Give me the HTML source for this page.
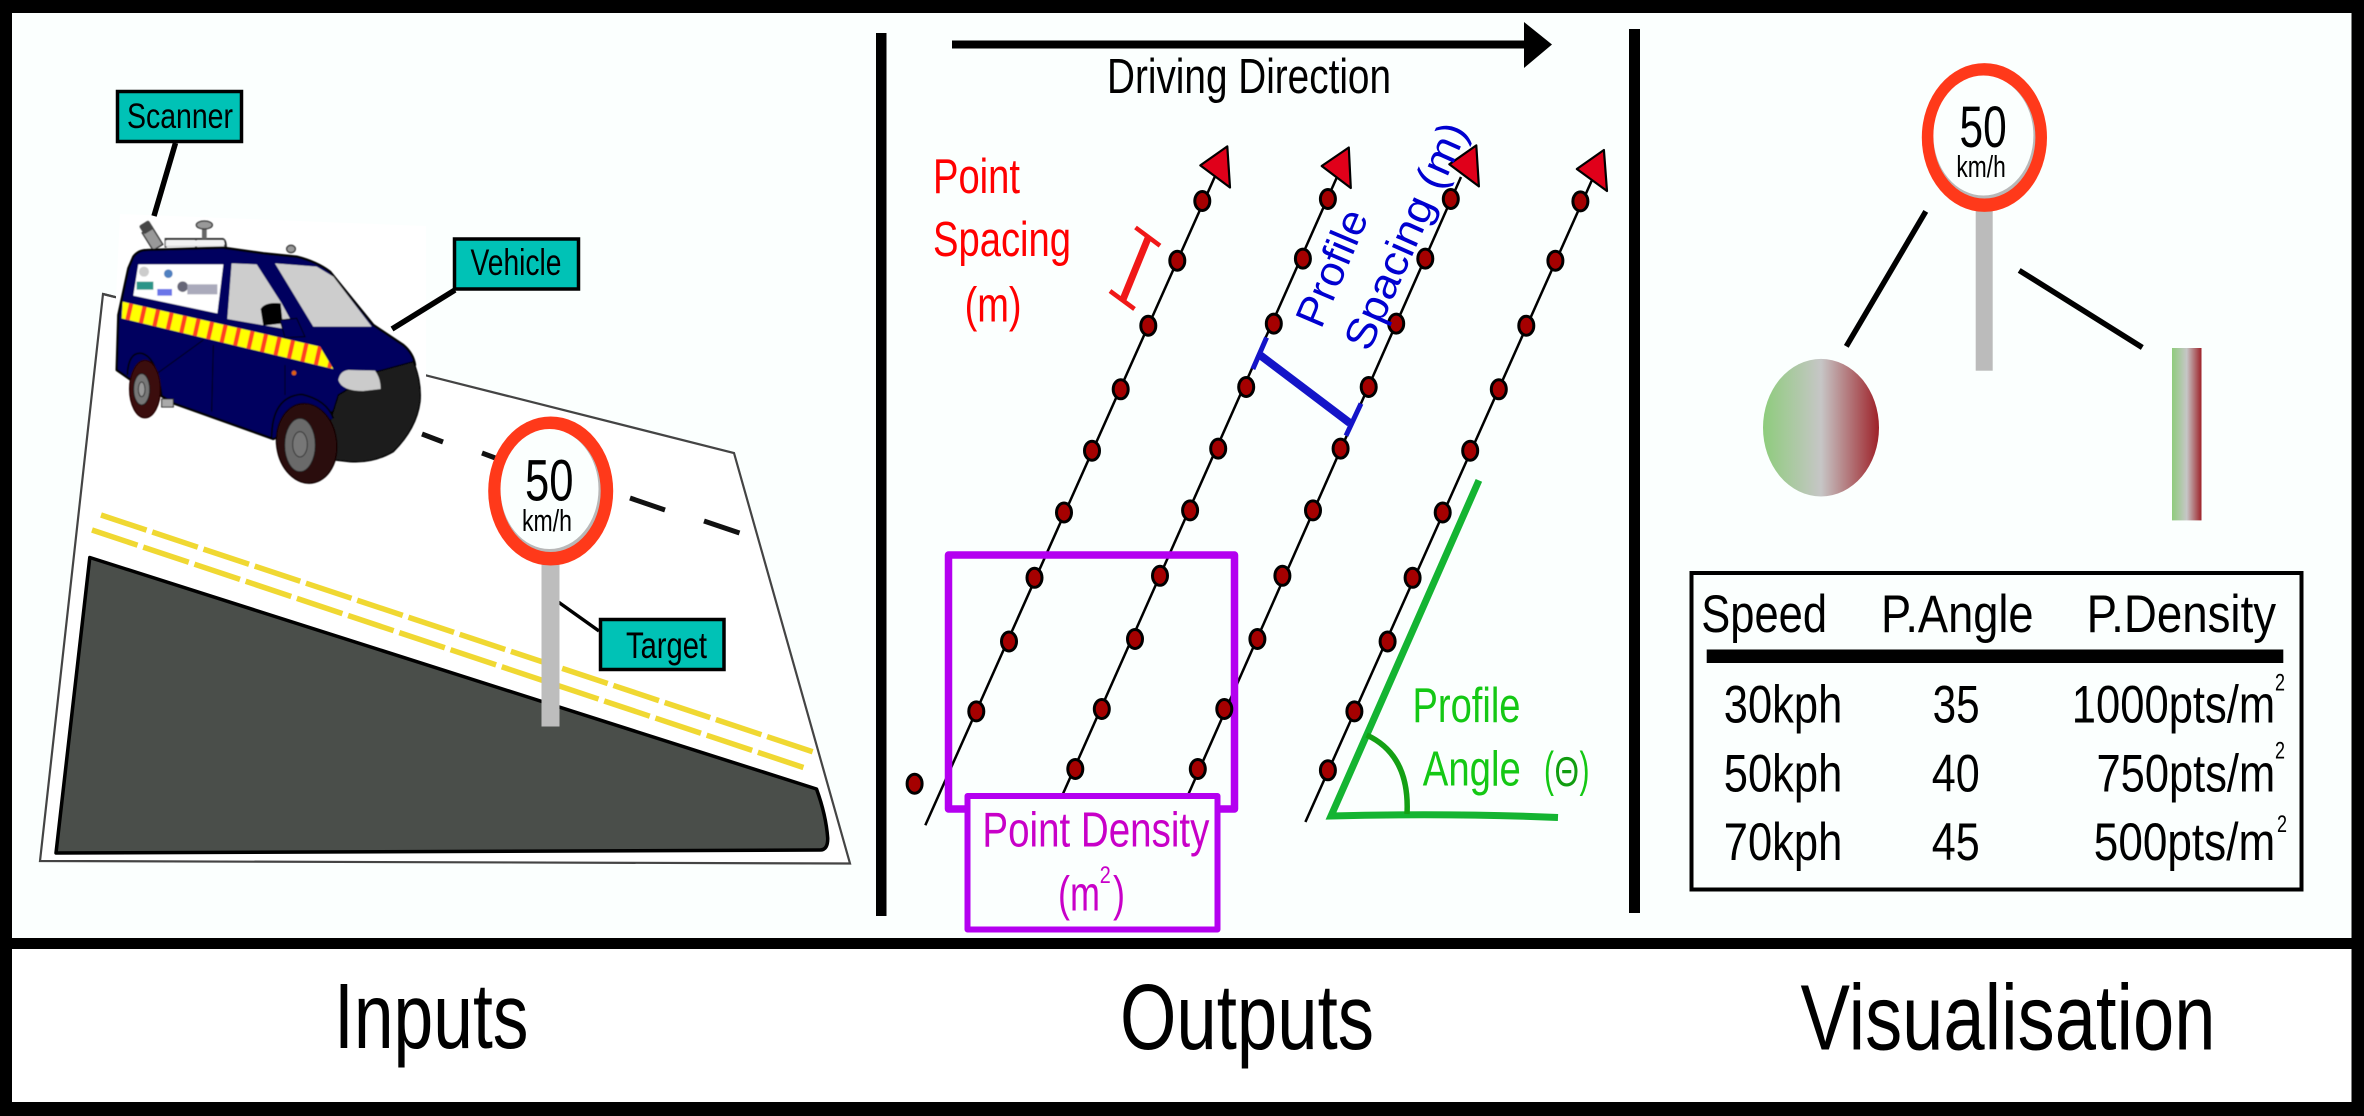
<!DOCTYPE html>
<html><head><meta charset="utf-8"><style>
html,body{margin:0;padding:0;background:#000;width:2364px;height:1116px;overflow:hidden}
svg{display:block}
text{font-family:"Liberation Sans",sans-serif}
</style></head><body>
<svg width="2364" height="1116" viewBox="0 0 2364 1116" xmlns="http://www.w3.org/2000/svg">
<defs>
<linearGradient id="g1" x1="0" x2="1" y1="0" y2="0"><stop offset="0" stop-color="#8ecc7c"/><stop offset=".5" stop-color="#c6c6c6"/><stop offset="1" stop-color="#9e2229"/></linearGradient>
<clipPath id="st"><polygon points="68,290 660,425 700,492 65,340"/></clipPath>
<filter id="soft" x="-5%" y="-5%" width="110%" height="110%"><feGaussianBlur stdDeviation="1.8"/></filter>
</defs>
<rect width="2364" height="1116" fill="#000"/>
<rect x="12" y="13" width="2339.5" height="925" fill="#fbfffe"/>
<rect x="12" y="949" width="2339.5" height="153" fill="#fff"/>

<!-- INPUTS -->
<polygon points="103,294 734,453 850,863.5 40,861" fill="#fff" stroke="#444" stroke-width="2.2"/>
<polygon points="120,214 426,226 426,375 424,480 120,480 116,297" fill="#fff"/>
<polyline points="103,294 115,297" fill="none" stroke="#444" stroke-width="2.2"/>
<g stroke="#111" stroke-width="5" fill="none">
<line x1="422" y1="434" x2="443" y2="442"/><line x1="482" y1="453" x2="498" y2="459"/>
<line x1="630" y1="498" x2="665" y2="510"/><line x1="704" y1="521" x2="739.5" y2="533"/>
</g>
<g stroke="#f0d832" stroke-width="5.5" fill="none" stroke-dasharray="48 6">
<line x1="101" y1="515" x2="815" y2="752.5"/>
<line x1="92" y1="530" x2="808" y2="769"/>
</g>
<path d="M89.8,557.5 L816.5,789 Q826,815 827.7,838 Q828,850 820,850 L56,853 Z" fill="#4a4e4a" stroke="#000" stroke-width="3.5" stroke-linejoin="round"/>

<!-- vehicle -->
<g transform="translate(100,205) scale(.33333)" filter="url(#soft)">
<path d="M197,128 V102 H368 Q378,104 378,130 M288,100 V128 M197,122 H378" fill="none" stroke="#333" stroke-width="6"/>
<rect x="197" y="106" width="175" height="18" fill="#f2f2f2"/>
<rect x="140" y="70" width="34" height="62" fill="#999" stroke="#333" stroke-width="4" transform="rotate(-32 157 100)"/>
<rect x="122" y="52" width="34" height="30" rx="6" fill="#444" transform="rotate(-32 139 67)"/>
<rect x="306" y="68" width="14" height="34" fill="#666"/>
<ellipse cx="313" cy="60" rx="24" ry="12" fill="#999" stroke="#333" stroke-width="4"/>
<ellipse cx="573" cy="132" rx="13" ry="11" fill="#999" stroke="#333" stroke-width="4"/>
<path d="M100,155 Q115,135 140,135 L370,128 L490,145 L590,155 Q650,170 690,200 L820,360 L910,420 Q940,445 945,480 L715,590 L700,620 L520,702 L220,595 L180,570 L100,530 L50,495 L55,330 L70,260 L85,190 Z" fill="#00005e" stroke="#000" stroke-width="7" stroke-linejoin="round"/>
<path d="M940,470 Q965,530 960,590 Q950,670 880,740 Q820,775 750,770 L705,765 L690,650 L715,570 L830,500 Z" fill="#1e1e1e" stroke="#000" stroke-width="4"/>
<path d="M715,525 Q720,498 745,495 L825,497 Q842,520 842,552 L790,558 Q725,558 715,525 Z" fill="#cbcbcb"/>
<polygon points="525,175 650,185 700,215 815,365 640,365" fill="#cdcdcd"/>
<path d="M395,175 L470,178 L545,295 L590,378 L382,342 Z" fill="#cdcdcd"/>
<polygon points="115,178 370,178 352,325 100,272" fill="#fff"/>
<rect x="110" y="230" width="50" height="24" fill="#2a9488"/>
<rect x="172" y="252" width="44" height="20" fill="#6a74e8"/>
<circle cx="205" cy="206" r="13" fill="#5080c0"/>
<circle cx="132" cy="200" r="15" fill="#ccc"/>
<ellipse cx="248" cy="245" rx="16" ry="16" fill="#667"/>
<rect x="262" y="238" width="90" height="30" fill="#aab"/>
<path d="M482,312 Q495,290 542,295 L548,355 L490,362 Z" fill="#000"/>
<path d="M540,345 L590,340 L615,395 L555,398 Z" fill="#00005e" stroke="#000" stroke-width="3"/>
<polygon points="68,290 660,425 700,492 65,340" fill="#ffff00"/>
<line x1="65" y1="315" x2="700" y2="460" stroke="#ff4020" stroke-width="62" stroke-dasharray="13 28.5" stroke-dashoffset="-17" clip-path="url(#st)"/>
<path d="M165,510 L310,405 M340,420 L335,620 M555,480 V570" stroke="#000" stroke-width="3" fill="none"/>
<circle cx="582" cy="504" r="7" fill="#e06010"/>
<rect x="185" y="582" width="35" height="24" fill="#aaa" stroke="#222" stroke-width="3"/>
<path d="M82,510 Q85,440 125,445 Q170,455 185,570" fill="#00005e" stroke="#000" stroke-width="5"/>
<path d="M515,700 Q515,575 605,568 Q680,585 700,640" fill="#00005e" stroke="#000" stroke-width="5"/>
<ellipse cx="135" cy="552" rx="46" ry="86" fill="#3a0a0a" stroke="#200" stroke-width="4"/>
<ellipse cx="125" cy="553" rx="24" ry="47" fill="#777" stroke="#222" stroke-width="3"/>
<ellipse cx="125" cy="553" rx="10" ry="22" fill="#999" stroke="#333" stroke-width="3"/>
<ellipse cx="620" cy="715" rx="90" ry="120" fill="#2c0a0a" stroke="#100" stroke-width="4" transform="rotate(-8 620 715)"/>
<ellipse cx="600" cy="720" rx="46" ry="80" fill="#6a6a6a" stroke="#222" stroke-width="3"/>
<ellipse cx="600" cy="718" rx="22" ry="38" fill="#777" stroke="#333" stroke-width="3"/>
</g>

<line x1="175.500" y1="143" x2="154" y2="216" stroke="#000" stroke-width="5.500"/>
<line x1="455" y1="290" x2="392" y2="329" stroke="#000" stroke-width="5.500"/>
<line x1="555.500" y1="600" x2="599" y2="631" stroke="#000" stroke-width="3.500"/>

<g fill="#00c2b6" stroke="#000" stroke-width="3.500">
<rect x="117.500" y="91.500" width="124" height="50"/>
<rect x="454.500" y="239" width="124" height="50"/>
<rect x="600.500" y="619.500" width="123.500" height="50"/>
</g>
<text x="127" y="128" font-size="35" textLength="106" lengthAdjust="spacingAndGlyphs">Scanner</text>
<text x="470.500" y="275" font-size="37" textLength="91" lengthAdjust="spacingAndGlyphs">Vehicle</text>
<text x="626" y="658" font-size="37" textLength="81" lengthAdjust="spacingAndGlyphs">Target</text>

<!-- sign 1 -->
<rect x="541.500" y="560" width="18" height="166.500" fill="#bdbdbd"/>
<ellipse cx="550.700" cy="491" rx="62.500" ry="74.500" fill="#ff391a"/>
<ellipse cx="550.700" cy="491" rx="50" ry="61" fill="#b8b8b8"/>
<ellipse cx="549.500" cy="489" rx="49" ry="60" fill="#fbfffe"/>
<text x="525" y="500.500" font-size="58" textLength="48.500" lengthAdjust="spacingAndGlyphs">50</text>
<text x="522" y="531" font-size="31" textLength="50" lengthAdjust="spacingAndGlyphs">km/h</text>

<text x="334" y="1048" font-size="93" textLength="194.500" lengthAdjust="spacingAndGlyphs">Inputs</text>

<!-- dividers -->
<rect x="876" y="33" width="10.500" height="883" fill="#000"/>
<rect x="1629" y="29" width="11" height="884" fill="#000"/>

<!-- arrow -->
<rect x="952" y="40.500" width="574" height="8" fill="#000"/>
<polygon points="1524,22 1552,44.500 1524,68" fill="#000"/>
<text x="1107" y="93" font-size="49" textLength="284" lengthAdjust="spacingAndGlyphs">Driving Direction</text>

<!-- profile lines -->
<g stroke="#000" stroke-width="2.500" fill="none">
<line x1="1215.600" y1="175" x2="925.300" y2="825.300"/>
<line x1="1337" y1="177" x2="1062" y2="796"/>
<line x1="1461" y1="177" x2="1187.600" y2="796"/>
<line x1="1592" y1="180" x2="1305.400" y2="822"/>
</g>

<!-- purple main box -->
<rect x="948.500" y="555" width="286" height="254" fill="none" stroke="#b400f0" stroke-width="7.500" stroke-linejoin="round"/>

<!-- triangles -->
<g fill="#e0001a" stroke="#000" stroke-width="2.200" stroke-linejoin="round">
<polygon points="1227.300,146.400 1200.300,165.400 1230,187.500"/>
<polygon points="1348.800,147.500 1321.700,166 1350.800,188"/>
<polygon points="1476.300,145.400 1449.300,164.300 1478.900,186.400"/>
<polygon points="1603.900,150 1576.800,169 1607,191"/>
</g>

<!-- dots -->
<g fill="#a50000" stroke="#000" stroke-width="3">
<ellipse cx="1202.300" cy="201" rx="7.500" ry="9.500"/><ellipse cx="1177.300" cy="260.700" rx="7.500" ry="9.500"/><ellipse cx="1148.300" cy="325.700" rx="7.500" ry="9.500"/><ellipse cx="1120.700" cy="389.300" rx="7.500" ry="9.500"/><ellipse cx="1092" cy="450.700" rx="7.500" ry="9.500"/><ellipse cx="1064" cy="512.500" rx="7.500" ry="9.500"/><ellipse cx="1034.500" cy="577.800" rx="7.500" ry="9.500"/><ellipse cx="1009" cy="641.500" rx="7.500" ry="9.500"/><ellipse cx="976.300" cy="711.400" rx="7.500" ry="9.500"/><ellipse cx="914.600" cy="783.700" rx="7.500" ry="9.500"/>
<ellipse cx="1327.900" cy="199" rx="7.500" ry="9.500"/><ellipse cx="1302.900" cy="258.600" rx="7.500" ry="9.500"/><ellipse cx="1273.800" cy="323.600" rx="7.500" ry="9.500"/><ellipse cx="1246.200" cy="387" rx="7.500" ry="9.500"/><ellipse cx="1218.200" cy="448.600" rx="7.500" ry="9.500"/><ellipse cx="1190.100" cy="510.400" rx="7.500" ry="9.500"/><ellipse cx="1160" cy="575.800" rx="7.500" ry="9.500"/><ellipse cx="1135" cy="639" rx="7.500" ry="9.500"/><ellipse cx="1101.800" cy="709" rx="7.500" ry="9.500"/><ellipse cx="1075.300" cy="769" rx="7.500" ry="9.500"/>
<ellipse cx="1450.800" cy="199" rx="7.500" ry="9.500"/><ellipse cx="1425.300" cy="258.600" rx="7.500" ry="9.500"/><ellipse cx="1396.200" cy="323.600" rx="7.500" ry="9.500"/><ellipse cx="1368.700" cy="387" rx="7.500" ry="9.500"/><ellipse cx="1340.600" cy="448.600" rx="7.500" ry="9.500"/><ellipse cx="1313" cy="510.400" rx="7.500" ry="9.500"/><ellipse cx="1282.400" cy="575.800" rx="7.500" ry="9.500"/><ellipse cx="1257.400" cy="639" rx="7.500" ry="9.500"/><ellipse cx="1224.300" cy="709" rx="7.500" ry="9.500"/><ellipse cx="1197.800" cy="769" rx="7.500" ry="9.500"/>
<ellipse cx="1580.400" cy="201.400" rx="7.500" ry="9.500"/><ellipse cx="1555.400" cy="260.700" rx="7.500" ry="9.500"/><ellipse cx="1526.300" cy="325.700" rx="7.500" ry="9.500"/><ellipse cx="1498.800" cy="389.300" rx="7.500" ry="9.500"/><ellipse cx="1470.200" cy="450.700" rx="7.500" ry="9.500"/><ellipse cx="1442.700" cy="512.500" rx="7.500" ry="9.500"/><ellipse cx="1412.600" cy="577.800" rx="7.500" ry="9.500"/><ellipse cx="1387.600" cy="641.500" rx="7.500" ry="9.500"/><ellipse cx="1354.400" cy="711.400" rx="7.500" ry="9.500"/><ellipse cx="1327.900" cy="770.300" rx="7.500" ry="9.500"/>
</g>

<!-- point density box -->
<rect x="967.500" y="796" width="250" height="133.500" fill="#fbfffe" stroke="#b400f0" stroke-width="6" stroke-linejoin="round"/>
<g fill="#c800c8">
<text x="982.400" y="846.600" font-size="49" textLength="227" lengthAdjust="spacingAndGlyphs">Point Density</text>
<text x="1058" y="910.600" font-size="49" textLength="42" lengthAdjust="spacingAndGlyphs">(m</text>
<text x="1099.800" y="883" font-size="24" textLength="11" lengthAdjust="spacingAndGlyphs">2</text>
<text x="1113" y="910.600" font-size="49" textLength="12" lengthAdjust="spacingAndGlyphs">)</text>
</g>

<!-- point spacing -->
<g fill="#ff0000" font-size="49">
<text x="933" y="193" textLength="87" lengthAdjust="spacingAndGlyphs">Point</text>
<text x="933" y="256" textLength="138" lengthAdjust="spacingAndGlyphs">Spacing</text>
<text x="964.600" y="321.400" textLength="57" lengthAdjust="spacingAndGlyphs">(m)</text>
</g>
<g stroke="#f01818" fill="none">
<line x1="1148.300" y1="237.500" x2="1122.800" y2="300" stroke-width="7"/>
<line x1="1135.500" y1="227.500" x2="1160" y2="245.700" stroke-width="4.500"/>
<line x1="1110" y1="291" x2="1134.500" y2="309" stroke-width="4.500"/>
</g>

<!-- profile spacing -->
<g stroke="#1414c8" fill="none">
<line x1="1260.500" y1="355.400" x2="1349.800" y2="423" stroke-width="8"/>
<line x1="1266.600" y1="337.500" x2="1252.900" y2="369" stroke-width="5"/>
<line x1="1361" y1="403.600" x2="1346" y2="435.700" stroke-width="5"/>
</g>
<g fill="#0000d0" font-size="42">
<text transform="translate(1321,330) rotate(-67)" textLength="123" lengthAdjust="spacingAndGlyphs">Profile</text>
<text transform="translate(1369,353) rotate(-66)" textLength="244" lengthAdjust="spacingAndGlyphs">Spacing (m)</text>
</g>

<!-- profile angle -->
<path d="M1478.900,480.400 L1331,816 Q1450,813 1558,817.500" fill="none" stroke="#14b432" stroke-width="7"/>
<path d="M1366.600,735 Q1410,755 1407,814" fill="none" stroke="#14a014" stroke-width="5.500"/>
<g fill="#14c814" font-size="49">
<text x="1412.500" y="722" textLength="108" lengthAdjust="spacingAndGlyphs">Profile</text>
<text x="1422.800" y="785.600" textLength="98" lengthAdjust="spacingAndGlyphs">Angle</text>
<text x="1544" y="786" textLength="10" lengthAdjust="spacingAndGlyphs">(</text>
<text x="1554.500" y="786" font-size="42" fill="#109c10" textLength="24.500" lengthAdjust="spacingAndGlyphs">Θ</text>
<text x="1579.500" y="786" textLength="10" lengthAdjust="spacingAndGlyphs">)</text>
</g>

<text x="1120" y="1049" font-size="93" textLength="254" lengthAdjust="spacingAndGlyphs">Outputs</text>

<!-- VISUALISATION -->
<rect x="1975.700" y="205" width="17" height="165.700" fill="#bbb"/>
<ellipse cx="1984.400" cy="137.500" rx="62.600" ry="74.400" fill="#ff391a"/>
<ellipse cx="1984.400" cy="137.500" rx="51" ry="61" fill="#b8b8b8"/>
<ellipse cx="1983.400" cy="135.500" rx="50" ry="60" fill="#fbfffe"/>
<text x="1959.500" y="147" font-size="58" textLength="47.200" lengthAdjust="spacingAndGlyphs">50</text>
<text x="1956.400" y="176.800" font-size="31" textLength="49.400" lengthAdjust="spacingAndGlyphs">km/h</text>
<line x1="1925.800" y1="211.400" x2="1846.300" y2="346.400" stroke="#000" stroke-width="5.500"/>
<line x1="2019.200" y1="270.400" x2="2142.300" y2="347.500" stroke="#000" stroke-width="5.500"/>
<ellipse cx="1821" cy="427.700" rx="58" ry="68.800" fill="url(#g1)"/>
<rect x="2172" y="348" width="29.500" height="172.400" fill="url(#g1)"/>

<!-- table -->
<rect x="1691.500" y="573" width="610" height="316.500" fill="none" stroke="#000" stroke-width="4"/>
<rect x="1706.700" y="649.500" width="576.600" height="13.500" fill="#000"/>
<g font-size="53">
<text x="1701.300" y="631.800" textLength="125.700" lengthAdjust="spacingAndGlyphs">Speed</text>
<text x="1881" y="631.800" textLength="152.600" lengthAdjust="spacingAndGlyphs">P.Angle</text>
<text x="2086.600" y="631.800" textLength="189.500" lengthAdjust="spacingAndGlyphs">P.Density</text>
<text x="1723.800" y="722.600" textLength="118.500" lengthAdjust="spacingAndGlyphs">30kph</text>
<text x="1932.600" y="722.600" textLength="47" lengthAdjust="spacingAndGlyphs">35</text>
<text x="2071.800" y="722.600" textLength="203.400" lengthAdjust="spacingAndGlyphs">1000pts/m</text>
<text x="1723.800" y="791.300" textLength="118.500" lengthAdjust="spacingAndGlyphs">50kph</text>
<text x="1931.700" y="791.300" textLength="48" lengthAdjust="spacingAndGlyphs">40</text>
<text x="2096.500" y="791.300" textLength="178.700" lengthAdjust="spacingAndGlyphs">750pts/m</text>
<text x="1723.800" y="860" textLength="118.500" lengthAdjust="spacingAndGlyphs">70kph</text>
<text x="1931.700" y="860" textLength="48" lengthAdjust="spacingAndGlyphs">45</text>
<text x="2093.800" y="860" textLength="181.400" lengthAdjust="spacingAndGlyphs">500pts/m</text>
</g>
<g font-size="24">
<text x="2275" y="690.600" textLength="10" lengthAdjust="spacingAndGlyphs">2</text>
<text x="2275" y="758.600" textLength="10" lengthAdjust="spacingAndGlyphs">2</text>
<text x="2277" y="832" textLength="10" lengthAdjust="spacingAndGlyphs">2</text>
</g>

<text x="1800.500" y="1049.500" font-size="93" textLength="415" lengthAdjust="spacingAndGlyphs">Visualisation</text>
</svg>
</body></html>
